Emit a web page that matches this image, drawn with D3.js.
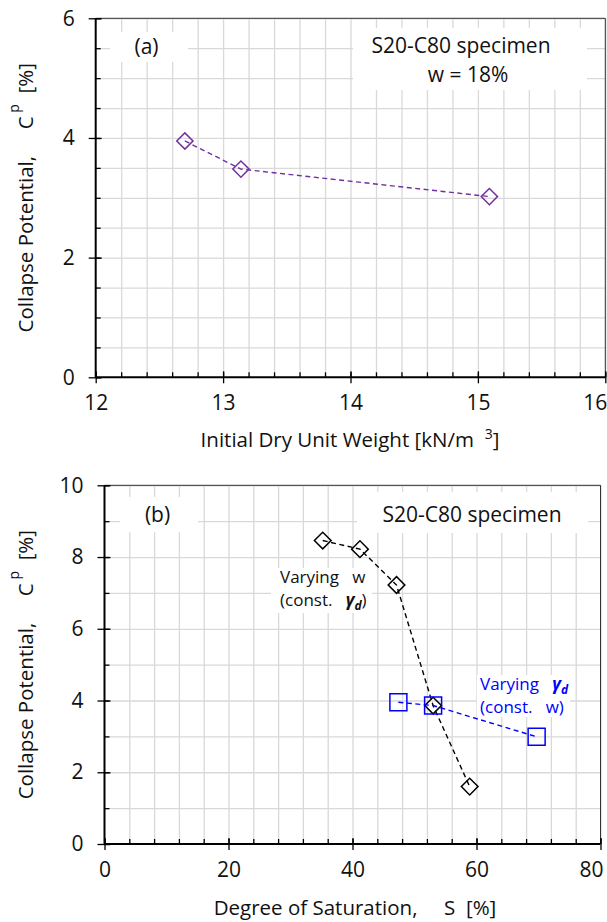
<!DOCTYPE html>
<html><head><meta charset="utf-8">
<script src="https://cdn.jsdelivr.net/npm/d3@7"></script>
<style>
body{margin:0;background:#fff;}
svg text{font-family:"Open Sans",sans-serif;white-space:pre;}
</style></head>
<body><svg id="c" width="607" height="922"></svg>
<script>
// ---- data (a) ----
const dryUnitWeight = [12.70, 13.14, 15.09];
const collapseA = [3.95, 3.48, 3.02];
const xTicksA = [12, 13, 14, 15, 16];
const yTicksA = [0, 2, 4, 6];
// ---- data (b) ----
const satVaryW = [35.2, 41.2, 47.1, 53.0, 58.9];
const collapseVaryW = [8.46, 8.22, 7.22, 3.86, 1.60];
const satVaryGd = [47.4, 53.0, 69.7];
const collapseVaryGd = [3.95, 3.86, 2.99];
const xTicksB = [0, 20, 40, 60, 80];
const yTicksB = [0, 2, 4, 6, 8, 10];

const svg = d3.select("#c");
const GRID = "#d9d9d9";

function panel(o) {
  const g = svg.append("g");
  const x = d3.scaleLinear().domain(o.xd).range([o.l, o.r]);
  const y = d3.scaleLinear().domain(o.yd).range([o.b, o.t]);
  // gridlines
  const xg = d3.range(o.xd[0] + o.xm, o.xd[1] + 1e-9, o.xm);
  const yg = d3.range(o.yd[0] + o.ym, o.yd[1] + 1e-9, o.ym);
  g.append("g").call(d3.axisBottom(x).tickValues(xg).tickSize(-(o.b - o.t)).tickFormat(""))
    .attr("transform", `translate(0,${o.b})`)
    .call(s => { s.select(".domain").remove(); s.selectAll("line").attr("stroke", GRID).attr("stroke-width", 1.3); });
  g.append("g").call(d3.axisLeft(y).tickValues(yg).tickSize(-(o.r - o.l)).tickFormat(""))
    .attr("transform", `translate(${o.l},0)`)
    .call(s => { s.select(".domain").remove(); s.selectAll("line").attr("stroke", GRID).attr("stroke-width", 1.3); });
  // frame top/right
  g.append("path").attr("d", `M${o.l},${o.t}H${o.r}V${o.b}`).attr("fill", "none").attr("stroke", "#333").attr("stroke-width", 1);
  // white boxes behind annotations
  o.boxes.forEach(bx => g.append("rect").attr("x", bx[0]).attr("y", bx[1]).attr("width", bx[2] - bx[0]).attr("height", bx[3] - bx[1]).attr("fill", "#fff"));
  // minor ticks (inside)
  const xMinor = d3.range(o.xd[0], o.xd[1] + 1e-9, o.xm);
  const yMinor = d3.range(o.yd[0], o.yd[1] + 1e-9, o.ym);
  g.append("g").attr("transform", `translate(0,${o.b})`)
    .call(d3.axisTop(x).tickValues(xMinor).tickSize(5).tickFormat(""))
    .call(s => { s.select(".domain").remove(); s.selectAll("line").attr("stroke", "#000").attr("stroke-width", 1.3); });
  g.append("g").attr("transform", `translate(${o.l},0)`)
    .call(d3.axisRight(y).tickValues(yMinor).tickSize(5).tickFormat(""))
    .call(s => { s.select(".domain").remove(); s.selectAll("line").attr("stroke", "#000").attr("stroke-width", 1.3); });
  // major axes
  const xa = g.append("g").attr("transform", `translate(0,${o.b})`)
    .call(d3.axisBottom(x).tickValues(o.xt).tickSize(6).tickPadding(12).tickFormat(d3.format("d")));
  xa.select(".domain").remove();
  xa.selectAll("line").attr("y1", -6).attr("stroke", "#000").attr("stroke-width", 1.3);
  xa.selectAll("text").attr("font-size", 21).attr("fill", "#111").attr("font-family", "Open Sans").attr("dy", "0.72em");
  // keep the last tick label inside the page
  xa.selectAll("text").filter(d => d === o.xd[1]).attr("text-anchor", "end").attr("x", o.lastDx);
  const ya = g.append("g").attr("transform", `translate(${o.l},0)`)
    .call(d3.axisLeft(y).tickValues(o.yt).tickSize(7).tickPadding(14).tickFormat(d3.format("d")));
  ya.select(".domain").remove();
  ya.selectAll("line").attr("x1", 6).attr("stroke", "#000").attr("stroke-width", 1.3);
  ya.selectAll("text").attr("font-size", 21).attr("fill", "#111").attr("font-family", "Open Sans");
  g.append("line").attr("x1", o.l).attr("x2", o.r).attr("y1", o.b).attr("y2", o.b).attr("stroke", "#000").attr("stroke-width", 2);
  g.append("line").attr("x1", o.l).attr("x2", o.l).attr("y1", o.b).attr("y2", o.t).attr("stroke", "#000").attr("stroke-width", 2);
  // y title
  const yt = g.append("text").attr("transform", `translate(33,${(o.t + o.b) / 2}) rotate(-90)`)
    .attr("text-anchor", "middle").attr("font-size", 20.5).attr("fill", "#111");
  yt.append("tspan").text("Collapse Potential,     C");
  yt.append("tspan").attr("font-size", 14).attr("dy", -14).text(" p");
  yt.append("tspan").attr("dy", 14).text("  [%]");
  return { g, x, y };
}

function series(p, xs, ys, color, shape, size) {
  const pts = xs.map((v, i) => [p.x(v), p.y(ys[i])]);
  p.g.append("path").attr("d", d3.line()(pts)).attr("fill", "none").attr("stroke", color)
    .attr("stroke-width", 1.4).attr("stroke-dasharray", "5,3.5");
  const sym = d3.symbol().type(d3.symbolSquare).size(size * size);
  p.g.selectAll(null).data(pts).enter().append("path")
    .attr("d", sym)
    .attr("transform", d => `translate(${d[0]},${d[1]})` + (shape === "diamond" ? " rotate(45)" : ""))
    .attr("fill", "none").attr("stroke", color).attr("stroke-width", 1.5);
}

// ---------- Panel (a) ----------
const A = panel({ xd: [12, 16], yd: [0, 6], l: 95.7, r: 605.3, t: 18.3, b: 377.3, xm: 0.2, ym: 0.5,
  xt: xTicksA, yt: yTicksA, lastDx: 1.5, boxes: [[110, 32, 188, 62], [353, 28, 587, 90]] });
series(A, dryUnitWeight, collapseA, "#7030A0", "diamond", 11.5);
A.g.append("text").attr("x", 146.5).attr("y", 54).attr("text-anchor", "middle").attr("font-size", 21).attr("fill", "#111").text("(a)");
A.g.append("text").attr("x", 461).attr("y", 53.3).attr("text-anchor", "middle").attr("font-size", 21).attr("fill", "#111").text("S20-C80 specimen");
A.g.append("text").attr("x", 468).attr("y", 81.7).attr("text-anchor", "middle").attr("font-size", 21).attr("fill", "#111").text("w = 18%");
const xtA = A.g.append("text").attr("x", 350).attr("y", 447).attr("text-anchor", "middle").attr("font-size", 20.5).attr("fill", "#111");
xtA.append("tspan").text("Initial Dry Unit Weight [kN/m  ");
xtA.append("tspan").attr("font-size", 14).attr("dy", -8).text("3");
xtA.append("tspan").attr("dy", 8).text("]");

// ---------- Panel (b) ----------
const B = panel({ xd: [0, 80], yd: [0, 10], l: 104.5, r: 600.5, t: 485.3, b: 844, xm: 4, ym: 1,
  xt: xTicksB, yt: yTicksB, lastDx: 2.5, boxes: [[120, 497, 198, 532], [357, 492, 588, 533], [271, 568, 372, 613], [477, 675, 570, 717]] });
series(B, satVaryW, collapseVaryW, "#000", "diamond", 11.8);
series(B, satVaryGd, collapseVaryGd, "#0000FF", "square", 17);
B.g.append("text").attr("x", 157.5).attr("y", 522).attr("text-anchor", "middle").attr("font-size", 21).attr("fill", "#111").text("(b)");
B.g.append("text").attr("x", 472).attr("y", 521.7).attr("text-anchor", "middle").attr("font-size", 21).attr("fill", "#111").text("S20-C80 specimen");
function gammaD(t) {
  t.append("tspan").attr("font-weight", "bold").attr("font-style", "italic").text("γ");
  t.append("tspan").attr("font-weight", "bold").attr("font-style", "italic").attr("font-size", 12).attr("dy", 4).text("d");
}
B.g.append("text").attr("x", 280).attr("y", 583).attr("font-size", 17).attr("fill", "#111").text("Varying   w");
const cb = B.g.append("text").attr("x", 280).attr("y", 606).attr("font-size", 17).attr("fill", "#111");
cb.append("tspan").text("(const.   ");
gammaD(cb);
cb.append("tspan").attr("dy", -4).text(")");
const vb = B.g.append("text").attr("x", 480).attr("y", 690).attr("font-size", 17).attr("fill", "#0000FF");
vb.append("tspan").text("Varying   ");
gammaD(vb);
B.g.append("text").attr("x", 480).attr("y", 712.7).attr("font-size", 17).attr("fill", "#0000FF").text("(const.   w)");
B.g.append("text").attr("x", 355).attr("y", 915).attr("text-anchor", "middle").attr("font-size", 20.5).attr("fill", "#111")
  .text("Degree of Saturation,     S  [%]");
</script></body></html>
